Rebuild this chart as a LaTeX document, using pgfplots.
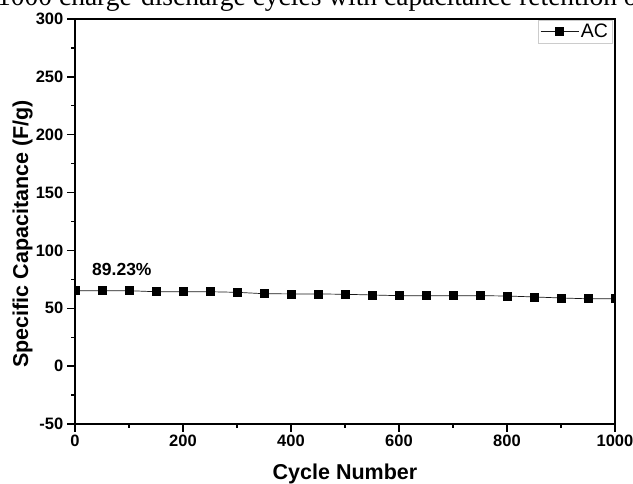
\documentclass[border=0pt]{standalone}
\usepackage{fontspec}
\setmainfont{Liberation Sans}
\newfontfamily\seriffont{Liberation Serif}
\usepackage{pgfplots}
\pgfplotsset{compat=1.18}
\begin{document}
\begin{tikzpicture}
\path[use as bounding box] (0,0) rectangle (633pt,484pt);
\node[anchor=base west, inner sep=0pt, font=\seriffont\fontsize{27.5}{30}\selectfont] at (-3pt,478pt) {1000 charge-discharge cycles with capacitance retention of};
\begin{axis}[
  at={(75pt,60pt)}, anchor=south west,
  scale only axis, width=540pt, height=405pt,
  xmin=0, xmax=1000, ymin=-50, ymax=300,
  xtick={0,200,...,1000}, ytick={-50,0,...,300},
  minor x tick num=1, minor y tick num=1,
  tick align=outside, tick pos=left,
  major tick length=8pt, minor tick length=4pt,
  axis line style={line width=1.6pt},
  every tick/.style={black, line width=1.4pt},
  tick label style={font=\fontsize{16.5}{19}\selectfont\bfseries},
  xticklabel style={inner sep=3pt},
  yticklabel style={inner sep=3.5pt},
  /pgf/number format/assume math mode=true,
  /pgf/number format/1000 sep={},
  xlabel={Cycle Number}, ylabel={Specific Capacitance (F/g)},
  every axis x label/.style={at={(axis description cs:0.5,-0.138)}, anchor=base},
  every axis y label/.style={at={(axis description cs:-0.087,0.469)}, rotate=90, anchor=base},
  label style={font=\fontsize{21.5}{24}\selectfont\bfseries},
  axis on top,
  clip marker paths=true,
  legend style={at={(rel axis cs:0.995,0.998)}, anchor=north east, draw=gray!40, line width=0.6pt, font=\fontsize{19.5}{21}\selectfont, inner xsep=2pt, inner ysep=2pt},
  legend image code/.code={\draw[mark repeat=2,mark phase=2,#1] plot coordinates {(0pt,0pt) (19pt,0pt) (38pt,0pt)};},
]
\addplot[black!90, line width=0.7pt, mark=square*, mark size=4pt, mark options={solid, fill=black, draw=black}] coordinates {
(0,65.2) (50,65.2) (100,65.2) (150,64.3) (200,64.3) (250,64.3) (300,63.8)
(350,62.6) (400,62.4) (450,62.4) (500,62.1) (550,61.5) (600,60.9) (650,60.9)
(700,60.9) (750,60.9) (800,60.6) (850,59.8) (900,58.9) (950,58.2) (1000,58.2)
};
\addlegendentry{AC}
\node[anchor=base west, inner sep=0pt, font=\fontsize{17.5}{20}\selectfont\bfseries] at (axis cs:31.5,78) {89.23\%};
\end{axis}
\end{tikzpicture}
\end{document}
